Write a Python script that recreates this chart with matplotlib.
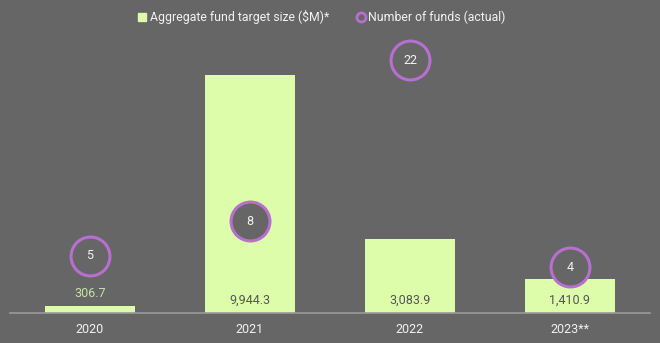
import matplotlib.pyplot as plt
from matplotlib.lines import Line2D

# data
years = ['2020', '2021', '2022', '2023**']
target_size = [306.7, 9944.3, 3083.9, 1410.9]
num_funds = [5, 8, 22, 4]
size_labels = ['306.7', '9,944.3', '3,083.9', '1,410.9']

bg = '#666666'
green = '#ddfdab'
purple = '#b76fd0'
txt = '#f2f2f2'

plt.rcParams['font.family'] = ['Roboto', 'DejaVu Sans']

fig = plt.figure(figsize=(6.6, 3.43), dpi=100, facecolor=bg)
ax = fig.add_axes([10/660, 30/343, 640/660, 287/343])
ax.set_facecolor(bg)

x = range(len(years))
ax.bar(x, target_size, width=0.56, color=green, zorder=2)
ax.set_ylim(0, 12000)
ax.set_xlim(-0.5, len(years) - 0.5)

# value labels: inside bar near the bottom, above when the bar is too short
for i, (v, lab) in enumerate(zip(target_size, size_labels)):
    if v < 1000:
        ax.annotate(lab, (i, v), xytext=(0, 9), textcoords='offset points',
                    ha='center', va='center', color='#c9e2a6', fontsize=9)
    else:
        ax.annotate(lab, (i, 0), xytext=(0, 9.5), textcoords='offset points',
                    ha='center', va='center', color='#555555', fontsize=9)

ax2 = ax.twinx()
ax2.set_ylim(0, 25)
ax2.plot(list(x), num_funds, linestyle='none', marker='o', markersize=28,
         markerfacecolor=bg, markeredgecolor=purple, markeredgewidth=2.2, zorder=3)
for i, n in enumerate(num_funds):
    ax2.text(i, n, str(n), ha='center', va='center', color=txt, fontsize=9, zorder=4)

for a in (ax, ax2):
    for s in a.spines.values():
        s.set_visible(False)
    a.set_yticks([])
ax.spines['bottom'].set_visible(True)
ax.spines['bottom'].set_color('#9a9a9a')
ax.spines['bottom'].set_linewidth(1.2)
ax.set_xticks(list(x))
ax.set_xticklabels(years, color=txt, fontsize=9)
ax.tick_params(axis='x', length=0, pad=7)

handles = [
    Line2D([], [], linestyle='none', marker='s', markersize=5.5,
           markerfacecolor=green, markeredgecolor=green),
    Line2D([], [], linestyle='none', marker='o', markersize=6.5,
           markerfacecolor=bg, markeredgecolor=purple, markeredgewidth=2),
]
leg = fig.legend(handles, ['Aggregate fund target size ($M)*', 'Number of funds (actual)'],
                 loc='center', bbox_to_anchor=(0.488, 1 - 17/343), ncol=2, frameon=False,
                 fontsize=8.8, handlelength=0.6, handletextpad=0.3, columnspacing=2.3,
                 labelcolor=txt)

plt.savefig('out.png', dpi=100, facecolor=bg)
